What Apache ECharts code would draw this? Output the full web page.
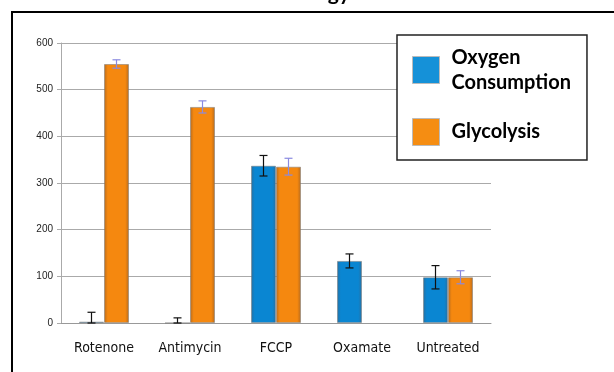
<!DOCTYPE html>
<html>
<head>
<meta charset="utf-8">
<script src="https://cdn.jsdelivr.net/npm/echarts@6/dist/echarts.min.js"></script>
<style>
  html, body { margin: 0; padding: 0; background: #fff; }
  #chart { width: 614px; height: 372px; }
</style>
</head>
<body>
<div id="chart"></div>
<script>
// values
const categories = ['Rotenone', 'Antimycin', 'FCCP', 'Oxamate', 'Untreated']
const oxygen = [3, 0, 337, 133, 98]
const oxygenErr = [20, 11, 22, 15, 25]
const glycolysis = [555, 463, 335, null, 98]
const glycolysisErr = [9, 13, 18, null, 14]

const BAR_W = 25

const blueFill = new echarts.graphic.LinearGradient(0, 0, 1, 0, [
    { offset: 0, color: '#2a6f9e' },
    { offset: 0.15, color: '#0a86d2' },
    { offset: 0.85, color: '#0a86d2' },
    { offset: 1, color: '#2a6f9e' }
])
const orangeFill = new echarts.graphic.LinearGradient(0, 0, 1, 0, [
    { offset: 0, color: '#b56a1e' },
    { offset: 0.15, color: '#f5880f' },
    { offset: 0.85, color: '#f5880f' },
    { offset: 1, color: '#b56a1e' }
])

// error bar as a custom series, shifted onto its bar
const errorBars = (name, values, errs, offset, color) => ({
    name: name + ' err',
    type: 'custom',
    z: 5,
    silent: true,
    data: values.map((v, i) => v == null ? null : [i, v, errs[i]]).filter(d => d),
    renderItem: (params, api) => {
        const i = api.value(0)
        const v = api.value(1)
        const e = api.value(2)
        const hi = api.coord([i, v + e])
        const lo = api.coord([i, Math.max(v - e, 0)])
        const x = hi[0] + offset
        const style = { stroke: color, lineWidth: 1.2 }
        return {
            type: 'group',
            children: [
                { type: 'line', shape: { x1: x, y1: hi[1], x2: x, y2: lo[1] }, style },
                { type: 'line', shape: { x1: x - 4, y1: hi[1], x2: x + 4, y2: hi[1] }, style },
                { type: 'line', shape: { x1: x - 4, y1: lo[1], x2: x + 4, y2: lo[1] }, style }
            ]
        }
    }
})

const option = {
    backgroundColor: '#fff',
    animation: false,
    grid: { left: 61, right: 123, top: 43, bottom: 49 },
    legend: {
        data: [
            { name: 'Oxygen Consumption', itemStyle: { color: '#1591d8', borderColor: '#bbb', borderWidth: 1 } },
            { name: 'Glycolysis', itemStyle: { color: '#f58d12', borderColor: '#bbb', borderWidth: 1 } }
        ],
        orient: 'vertical',
        left: 397,
        top: 35,
        icon: 'rect',
        itemWidth: 27,
        itemHeight: 27,
        itemGap: 23,
        padding: [10, 16, 14, 15],
        borderColor: '#222',
        borderWidth: 1.5,
        backgroundColor: '#fff',
        formatter: name => name === 'Oxygen Consumption' ? 'Oxygen\nConsumption' : name,
        textStyle: {
            fontFamily: 'Lato',
            fontWeight: 'bold',
            fontSize: 20,
            lineHeight: 25,
            color: '#000',
            padding: [0, 0, 0, 7]
        }
    },
    graphic: [
        {
            type: 'rect',
            shape: { x: 12, y: 12, width: 640, height: 420 },
            style: { fill: null, stroke: '#000', lineWidth: 2 },
            z: 100
        },
        {
            type: 'text',
            x: 350,
            y: -17,
            style: {
                text: 'Energy',
                align: 'right',
                verticalAlign: 'top',
                font: 'bold 21px Lato',
                fill: '#000'
            }
        }
    ],
    xAxis: {
        type: 'category',
        data: categories,
        axisTick: { show: false },
        axisLine: { lineStyle: { color: '#999', width: 1 } },
        axisLabel: {
            margin: 18,
            fontFamily: '"Liberation Sans Narrow", "DejaVu Sans Condensed", "Roboto Condensed", sans-serif',
            fontSize: 14,
            color: '#111'
        }
    },
    yAxis: {
        type: 'value',
        min: 0,
        max: 600,
        interval: 100,
        axisLine: { show: true, lineStyle: { color: '#aaa' } },
        axisTick: { show: true, length: 4, lineStyle: { color: '#aaa' } },
        splitLine: { lineStyle: { color: '#aaa' } },
        axisLabel: {
            margin: 8,
            fontFamily: 'Liberation Sans',
            fontSize: 10,
            color: '#222'
        }
    },
    series: [
        {
            name: 'Oxygen Consumption',
            type: 'bar',
            barWidth: BAR_W,
            barGap: '0%',
            data: oxygen,
            itemStyle: { color: blueFill, borderColor: 'rgba(120,120,120,0.5)', borderWidth: 1 }
        },
        {
            name: 'Glycolysis',
            type: 'bar',
            barWidth: BAR_W,
            barGap: '0%',
            data: glycolysis,
            itemStyle: { color: orangeFill, borderColor: 'rgba(120,120,120,0.5)', borderWidth: 1 }
        },
        errorBars('Oxygen Consumption', oxygen, oxygenErr, -BAR_W / 2, '#111'),
        errorBars('Glycolysis', glycolysis, glycolysisErr, BAR_W / 2, '#8a8ae0')
    ]
}

const chart = echarts.init(document.getElementById('chart'))
chart.setOption(option)
</script>
</body>
</html>
